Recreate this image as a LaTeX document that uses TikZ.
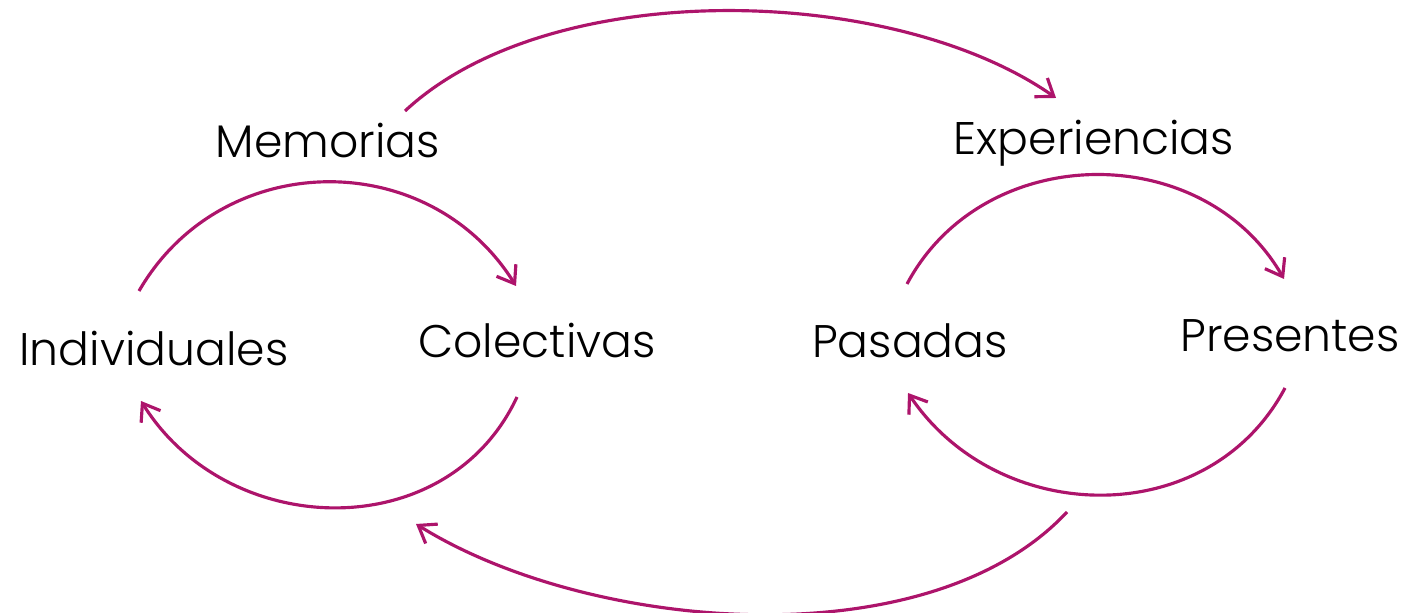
\documentclass[tikz,border=0pt]{standalone}
\usepackage{fontspec}
\setmainfont{Poppins}[UprightFont=* Light]
\usepackage{tikz}
\usetikzlibrary{arrows.meta}
\definecolor{memo}{RGB}{173,20,107}

\begin{document}
\begin{tikzpicture}[
  lbl/.style={anchor=base, inner sep=0pt, font=\fontsize{13}{15}\selectfont},
  arc/.style={draw=memo, line width=0.9pt, -{Straight Barb[length=4.5pt, width=6.5pt]}}
]
\useasboundingbox (0,0) rectangle (14.07,6.13);

\node[lbl] (mem) at (3.28,4.55) {Memorias};
\node[lbl] (exp) at (10.94,4.58) {Experiencias};
\node[lbl] (ind) at (1.54,2.47) {Individuales};
\node[lbl] (col) at (5.37,2.55) {Colectivas};
\node[lbl] (pas) at (9.10,2.55) {Pasadas};
\node[lbl] (pre) at (12.90,2.61) {Presentes};

% memorias -> experiencias
\draw[arc] ([shift={(0.77,0.47)}]mem.base) to[out=43, in=145, looseness=0.78] ([shift={(-0.38,0.57)}]exp.base);

% ciclo izquierdo
\draw[arc] ([shift={(-0.15,0.75)}]ind.base) to[out=60, in=122, looseness=1.12] ([shift={(-0.21,0.72)}]col.base);
\draw[arc] ([shift={(-0.20,-0.39)}]col.base) to[out=-115, in=-58, looseness=1.12] ([shift={(-0.13,-0.35)}]ind.base);

% ciclo derecho
\draw[arc] ([shift={(-0.03,0.74)}]pas.base) to[out=62, in=120, looseness=1.1] ([shift={(-0.06,0.73)}]pre.base);
\draw[arc] ([shift={(-0.05,-0.36)}]pre.base) to[out=-118, in=-56, looseness=1.1] ([shift={(-0.02,-0.35)}]pas.base);

% vuelta
\coordinate (rbot) at ([shift={(1.57,-1.54)}]pas.base);
\coordinate (lbot) at ([shift={(-1.21,-1.66)}]col.base);
\draw[arc] (rbot) to[out=-133, in=-32, looseness=0.8] (lbot);

\end{tikzpicture}
\end{document}
